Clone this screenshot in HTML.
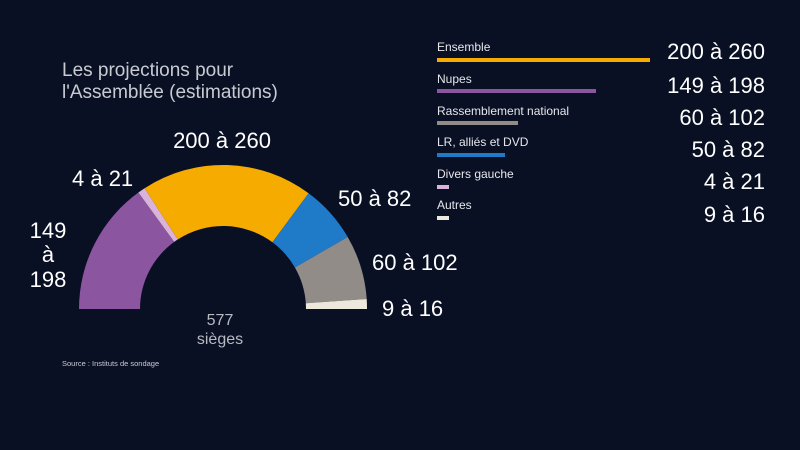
<!DOCTYPE html>
<html><head><meta charset="utf-8"><style>
html,body{margin:0;padding:0;background:#0a1024;}
svg{display:block;font-family:"Liberation Sans",sans-serif;}
</style></head><body>
<svg width="800" height="450" viewBox="0 0 800 450" xmlns="http://www.w3.org/2000/svg">
<rect width="800" height="450" fill="#0a1024"/>
<text x="62" y="76" fill="#c9cbd2" font-size="19">Les projections pour</text>
<text x="62" y="98" fill="#c9cbd2" font-size="19">l'Assemblée (estimations)</text>
<path d="M79,309 A144,144 0 0 1 138.4,192.5 L174.2,241.9 A83,83 0 0 0 140,309 Z" fill="#8b55a0"/>
<path d="M138.4,192.5 A144,144 0 0 1 144.6,188.2 L177.8,239.4 A83,83 0 0 0 174.2,241.9 Z" fill="#d9b3d9"/>
<path d="M144.6,188.2 A144,144 0 0 1 308.6,193.2 L272.4,242.3 A83,83 0 0 0 177.8,239.4 Z" fill="#f5ab00"/>
<path d="M308.6,193.2 A144,144 0 0 1 347.7,237 L294.9,267.5 A83,83 0 0 0 272.4,242.3 Z" fill="#1f7ac8"/>
<path d="M347.7,237 A144,144 0 0 1 366.7,299 L305.8,303.2 A83,83 0 0 0 294.9,267.5 Z" fill="#918c88"/>
<path d="M366.7,299 A144,144 0 0 1 367,309 L306,309 A83,83 0 0 0 305.8,303.2 Z" fill="#ede8dc"/>
<g fill="#ffffff" font-size="22">
<text x="222" y="148" text-anchor="middle">200 à 260</text>
<text x="72" y="186">4 à 21</text>
<text x="338" y="206">50 à 82</text>
<text x="372" y="270">60 à 102</text>
<text x="382" y="316">9 à 16</text>
<text x="48" y="238" text-anchor="middle">149</text>
<text x="48" y="262" text-anchor="middle">à</text>
<text x="48" y="287" text-anchor="middle">198</text>
</g>
<text x="220" y="325" fill="#b8bac2" font-size="16" text-anchor="middle">577</text>
<text x="220" y="344" fill="#b8bac2" font-size="16" text-anchor="middle">sièges</text>
<text x="62" y="366" fill="#c9cbd2" font-size="7.5">Source : Instituts de sondage</text>
<g fill="#e6e7ec" font-size="12">
<text x="437" y="51">Ensemble</text>
<text x="437" y="83">Nupes</text>
<text x="437" y="115">Rassemblement national</text>
<text x="437" y="146">LR, alliés et DVD</text>
<text x="437" y="178">Divers gauche</text>
<text x="437" y="209">Autres</text>
</g>
<rect x="437" y="58" width="213" height="4" fill="#f5ab00"/>
<rect x="437" y="89" width="159" height="4" fill="#8b55a0"/>
<rect x="437" y="121" width="81" height="4" fill="#918c88"/>
<rect x="437" y="153" width="68" height="4" fill="#1f7ac8"/>
<rect x="437" y="185" width="12" height="4" fill="#d9b3d9"/>
<rect x="437" y="216" width="12" height="4" fill="#ede8dc"/>
<g fill="#ffffff" font-size="22" text-anchor="end">
<text x="765" y="59">200 à 260</text>
<text x="765" y="93">149 à 198</text>
<text x="765" y="125">60 à 102</text>
<text x="765" y="157">50 à 82</text>
<text x="765" y="189">4 à 21</text>
<text x="765" y="222">9 à 16</text>
</g>
</svg>
</body></html>
